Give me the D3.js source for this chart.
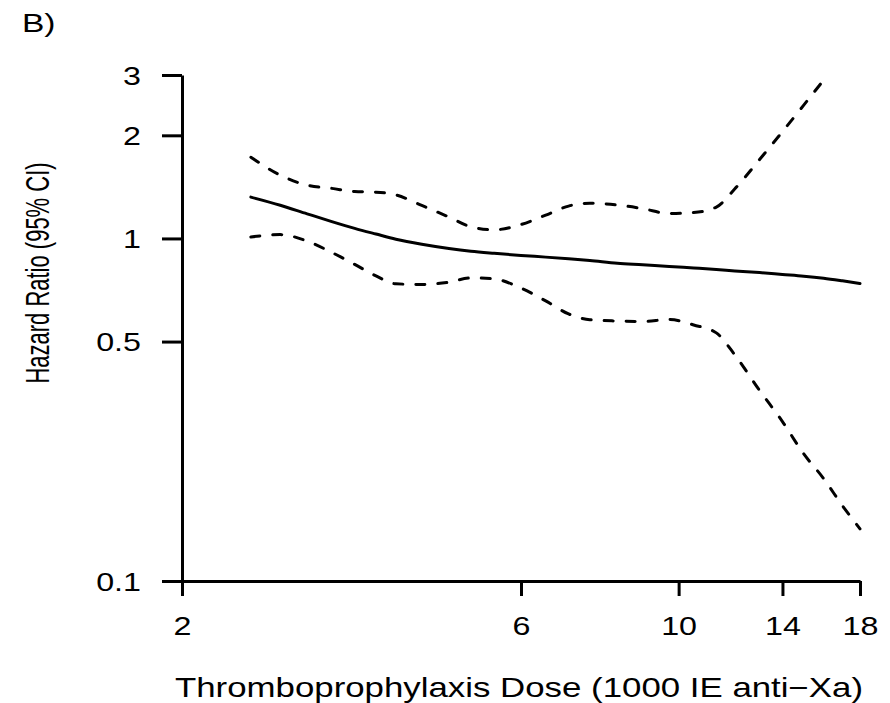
<!DOCTYPE html>
<html>
<head>
<meta charset="utf-8">
<script src="https://cdn.jsdelivr.net/npm/d3@7"></script>
<style>
    body { margin: 0; background: #fff; }
    text { font-family: "Liberation Sans", Arial, Helvetica, sans-serif; fill: #000; }
</style>
</head>
<body>
<div id="chart"></div>
<script>
// dose in 1000 IE anti-Xa, hazard ratio with 95% CI
const dose = [2.5, 2.75, 3, 3.25, 3.5, 3.75, 4, 4.35, 4.75, 5.1, 5.5, 6, 6.5, 7, 7.5, 8.2, 8.9, 9.7, 10.5, 11.3, 12, 13, 14, 15, 16, 17, 18];
const hazardRatio = [1.32, 1.25, 1.18, 1.12, 1.07, 1.03, 0.995, 0.962, 0.935, 0.918, 0.905, 0.892, 0.882, 0.872, 0.862, 0.847, 0.838, 0.828, 0.82, 0.812, 0.804, 0.795, 0.785, 0.776, 0.765, 0.752, 0.739];
const upperCI = [1.726, 1.53, 1.43, 1.40, 1.37, 1.365, 1.34, 1.248, 1.155, 1.082, 1.06, 1.098, 1.17, 1.243, 1.267, 1.252, 1.222, 1.182, 1.19, 1.235, 1.396, 1.70, 2.05, 2.45, 2.9, null, null];
const lowerCI = [1.01, 1.026, 0.982, 0.91, 0.84, 0.777, 0.737, 0.734, 0.745, 0.767, 0.762, 0.716, 0.657, 0.602, 0.579, 0.574, 0.572, 0.58, 0.559, 0.53, 0.457, 0.36, 0.292, 0.235, 0.199, 0.166, 0.142];

const xTicks = [2, 6, 10, 14, 18];
const yTicks = [0.1, 0.5, 1, 2, 3];

const panelLabel = "B)";
const xTitle = "Thromboprophylaxis Dose (1000 IE anti\u2212Xa)";
const yTitle = "Hazard Ratio (95% CI)";

width = 890;
height = 703;
margin = ({top: 75, right: 30, bottom: 122, left: 182});
stretch = 1.29; // the original figure is stretched horizontally

const svg = d3.select("#chart").append("svg")
    .attr("width", width)
    .attr("height", height);

const x = d3.scaleLog()
    .domain([2, 18])
    .range([margin.left, 860]);

const y = d3.scaleLog()
    .domain([0.1, 3])
    .range([height - margin.bottom, margin.top]);

// axes
const xAxis = g => g
    .attr("transform", `translate(0,${height - margin.bottom})`)
    .call(d3.axisBottom(x).tickValues(xTicks).tickFormat(d3.format("d"))
        .tickSize(15).tickSizeOuter(0).tickPadding(21))
    .call(g => g.selectAll("path, line").attr("stroke", "#000").attr("stroke-width", 3))
    .call(g => g.selectAll("text")
        .attr("font-size", 25)
        .attr("font-family", null)
        .attr("transform", `scale(${stretch},1)`));

const yAxis = g => g
    .attr("transform", `translate(${margin.left},0)`)
    .call(d3.axisLeft(y).tickValues(yTicks).tickFormat(d => String(d))
        .tickSize(20).tickSizeOuter(0))
    .call(g => g.selectAll("path, line").attr("stroke", "#000").attr("stroke-width", 3))
    .call(g => g.selectAll("text")
        .attr("font-size", 25)
        .attr("font-family", null)
        .attr("x", -41 / stretch)
        .attr("dy", "0.36em")
        .attr("transform", `scale(${stretch},1)`));

svg.append("g").call(xAxis);
svg.append("g").call(yAxis);

// curves
const rows = dose.map((d, i) => ({dose: d, hr: hazardRatio[i], hi: upperCI[i], lo: lowerCI[i]}));

const lineFor = key => d3.line()
    .defined(d => d[key] != null)
    .x(d => x(d.dose))
    .y(d => y(d[key]))
    .curve(d3.curveMonotoneX);

svg.append("path")
    .datum(rows)
    .attr("fill", "none")
    .attr("stroke", "#000")
    .attr("stroke-width", 3)
    .attr("stroke-linejoin", "round")
    .attr("stroke-linecap", "round")
    .attr("d", lineFor("hr"));

for (const key of ["hi", "lo"]) {
    svg.append("path")
        .datum(rows)
        .attr("fill", "none")
        .attr("stroke", "#000")
        .attr("stroke-width", 3)
        .attr("stroke-dasharray", "9,13")
        .attr("stroke-linecap", "round")
        .attr("d", lineFor(key));
}

// titles
svg.append("text")
    .attr("transform", `translate(22,32) scale(${stretch},1)`)
    .attr("font-size", 26)
    .text(panelLabel);

svg.append("text")
    .attr("transform", `translate(519,697) scale(${stretch},1)`)
    .attr("text-anchor", "middle")
    .attr("font-size", 27)
    .text(xTitle);

svg.append("text")
    .attr("transform", `translate(49,273) scale(1.5,1) rotate(-90)`)
    .attr("text-anchor", "middle")
    .attr("font-size", 22)
    .text(yTitle);
</script>
</body>
</html>
